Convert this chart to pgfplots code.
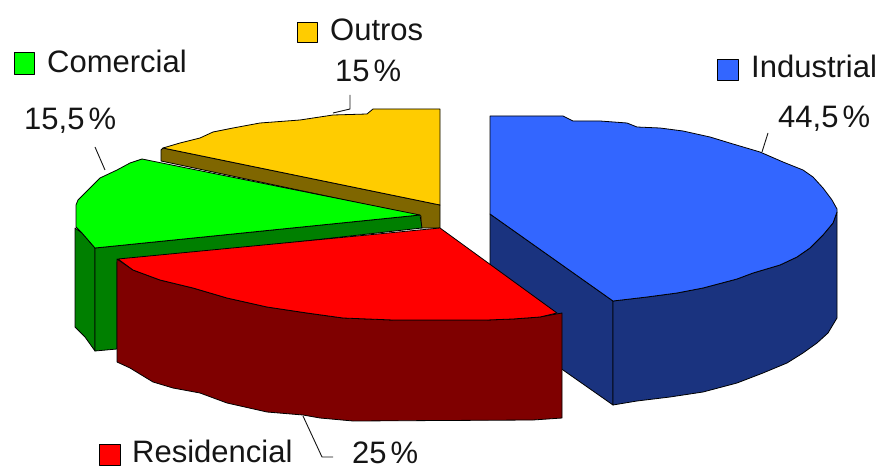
\documentclass[border=0pt]{standalone}
\usepackage{fontspec}
\setmainfont{Liberation Sans}
\usepackage{pgfplots}
\pgfplotsset{compat=1.18}
\definecolor{blueTop}{HTML}{3366FF}
\definecolor{blueSide}{HTML}{1A337F}
\definecolor{redTop}{HTML}{FF0000}
\definecolor{redSide}{HTML}{7F0000}
\definecolor{greenTop}{HTML}{00FF00}
\definecolor{greenSide}{HTML}{007F00}
\definecolor{yellowTop}{HTML}{FFCC00}
\definecolor{yellowSide}{HTML}{7F6600}
\definecolor{ink}{HTML}{151515}
\tikzset{
  face/.style={draw=black, line width=0.8pt, fill=#1},
  leader/.style={draw=ink, line width=0.9pt},
  lab/.style={anchor=base west, inner sep=0pt, text=ink,
    font=\fontsize{31}{33}\selectfont},
}
\begin{document}
\begin{tikzpicture}
\begin{axis}[
  width=879pt, height=468pt, scale only axis,
  xmin=0, xmax=879, ymin=0, ymax=468, y dir=reverse,
  axis lines=none, clip=false,
  every axis plot/.append style={no marks, line join=round},
]
% Full canvas, so the picture keeps its size
\path (axis cs:0,0) rectangle (axis cs:879,468);
% Industrial wedge
\addplot[face=blueSide] coordinates {(490,214) (613,301) (613,405) (563,370) (490,318)} --cycle;
\addplot[face=blueSide] coordinates {(613,301) (647,297) (677,293) (703,288) (737,279) (753,273) (780,265) (797,257) (810,248) (823,235) (833,223) (837,212)
  (837,318) (828,333) (817,343) (803,353) (787,363) (763,373) (737,383) (703,392) (670,397) (637,401) (613,405)} --cycle;
\addplot[face=blueTop] coordinates {(490,116) (563,116) (573,121) (600,121) (627,123) (637,127) (660,128) (683,131) (710,137) (733,144) (760,152)
  (783,162) (803,170) (813,177) (823,188) (832,200) (837,209) (837,212) (833,223) (823,235) (810,248) (797,257) (780,265) (753,273) (737,279) (703,288) (677,293) (647,297) (613,301) (490,214)} --cycle;
% Outros wedge
\addplot[face=yellowSide] coordinates {(161,150) (163,148) (440,205) (440,228) (421,228) (421,216) (161,161)} --cycle;
\addplot[face=yellowTop] coordinates {(440,109) (373,109) (367,114) (333,115) (300,120) (260,123) (233,128) (213,132) (200,138) (180,143) (163,148) (440,205)} --cycle;
% Comercial wedge
\addplot[face=greenSide] coordinates {(75,228) (82,233) (95,248) (95,351) (85,337) (75,327)} --cycle;
\addplot[face=greenSide] coordinates {(95,248) (420,215) (422,228) (117,262) (117,349) (95,351)} --cycle;
\addplot[face=greenTop] coordinates {(142,159) (130,163) (117,170) (100,178) (88,190) (78,200) (76,205) (76,227) (82,233) (95,248) (420,215)} --cycle;
% Residencial wedge
\addplot[face=redSide] coordinates {(117,259) (133,270) (160,280) (193,288) (227,298) (267,307) (307,313) (343,318) (393,320) (487,320) (513,319) (540,317) (562,313)
  (562,418) (533,420) (353,421) (320,418) (303,415) (267,412) (227,403) (200,393) (173,388) (153,382) (130,368) (117,362)} --cycle;
\addplot[face=redTop] coordinates {(118,259) (440,228) (557,313) (540,317) (513,319) (487,320) (393,320) (343,318) (307,313) (267,307) (227,298) (193,288) (160,280) (133,270)} --cycle;
% Leader lines
\addplot[leader] coordinates {(350,95) (350,109) (333,113)};
\addplot[leader] coordinates {(95,147) (105,170)};
\addplot[leader] coordinates {(768,133) (762,152)};
\addplot[leader] coordinates {(303,416) (322,457) (333,457)};
% Legend keys
\addplot[face=greenTop] coordinates {(14,52) (34,52) (34,74) (14,74)} --cycle;
\addplot[face=yellowTop] coordinates {(297,22) (317,22) (317,42) (297,42)} --cycle;
\addplot[face=blueTop] coordinates {(717,59) (738,59) (738,80) (717,80)} --cycle;
\addplot[face=redTop] coordinates {(99,444) (120,444) (120,465) (99,465)} --cycle;
% Labels
\node[lab] at (axis cs:47,73) {Comercial};
\node[lab] at (axis cs:330,41) {Outros};
\node[lab] at (axis cs:751,78) {Industrial};
\node[lab] at (axis cs:132,462) {Residencial};
\node[lab] at (axis cs:335,82) {15\hspace{4pt}\%};
\node[lab] at (axis cs:24,130) {15,5\hspace{4pt}\%};
\node[lab] at (axis cs:778,128) {44,5\hspace{4pt}\%};
\node[lab] at (axis cs:352,463) {25\hspace{4pt}\%};
\end{axis}
\end{tikzpicture}
\end{document}
